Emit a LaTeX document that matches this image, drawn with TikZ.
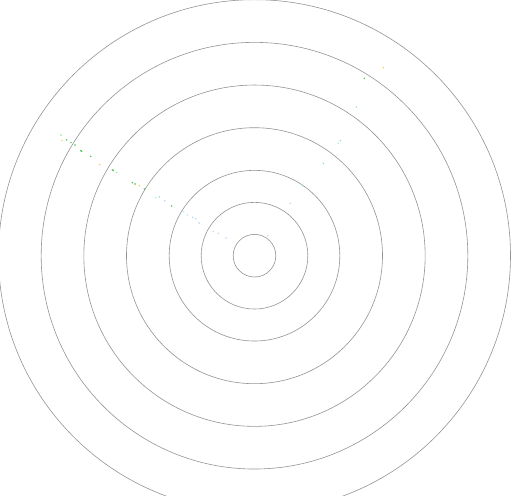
\documentclass[tikz,border=0pt]{standalone}
\definecolor{dgreen}{RGB}{60,195,70}
\definecolor{dyellow}{RGB}{250,200,60}
\definecolor{dlgreen}{RGB}{140,230,150}
\definecolor{dcyan}{RGB}{170,235,245}
\definecolor{dblue}{RGB}{170,215,250}
\definecolor{dlav}{RGB}{200,205,250}
\begin{document}
\begin{tikzpicture}[x=1pt,y=1pt,
  ring/.style={draw=black!42,line width=0.6pt},
  dotg/.style={fill=dgreen},
  doty/.style={fill=dyellow},
  dotlg/.style={fill=dlgreen},
  dotc/.style={fill=dcyan},
  dotb/.style={fill=dblue},
  dotl/.style={fill=dlav}]
\useasboundingbox (0,0) rectangle (515,496);
\clip (0,0) rectangle (515,496);
\fill[white] (0,0) rectangle (515,496);
\coordinate (c) at (254.5,240.3);
\foreach \r in {21.33,53.33,85.33,128,170.67,213.33,256}
  \draw[ring] (c) circle (\r);
% upper-left trail
\foreach \x/\y/\s in {61/361/dotlg,62/355.3/doty,66.7/356/dotg,71/353.3/dotg,75/351/dotg,
  80.7/345.3/dotg,81.7/344.8/dotg,90.7/339.7/dotg,99.7/331.3/doty,112.3/326/dotg,113.3/325.5/dotg,116.7/323.7/dotlg,
  132.3/313.3/dotg,135/312/dotg,139.3/310.3/doty,144.3/307/dotg,155.7/298.3/dotc,
  159.3/299/dotlg,164.7/295.3/dotb,171.7/290/dotg,183.3/284.3/dotc,187.3/281/dotc,
  192.7/278.7/dotb,195.7/277.3/dotb,199/273/dotb,213.3/264.3/dotl,218.3/262.7/dotl,
  226/258/dotl,267.7/260.3/dotl}
  \fill[\s] (\x,\y) circle (0.8);
% upper-right trail
\foreach \x/\y/\s in {383.3/428.3/doty,364.3/417.7/dotg,356.3/389/dotlg,340.3/355.3/dotlg,
  338.3/352.7/dotc,323.3/332.7/dotlg,302.3/310/dotc,290.3/292.7/dotb}
  \fill[\s] (\x,\y) circle (0.8);
\end{tikzpicture}
\end{document}
